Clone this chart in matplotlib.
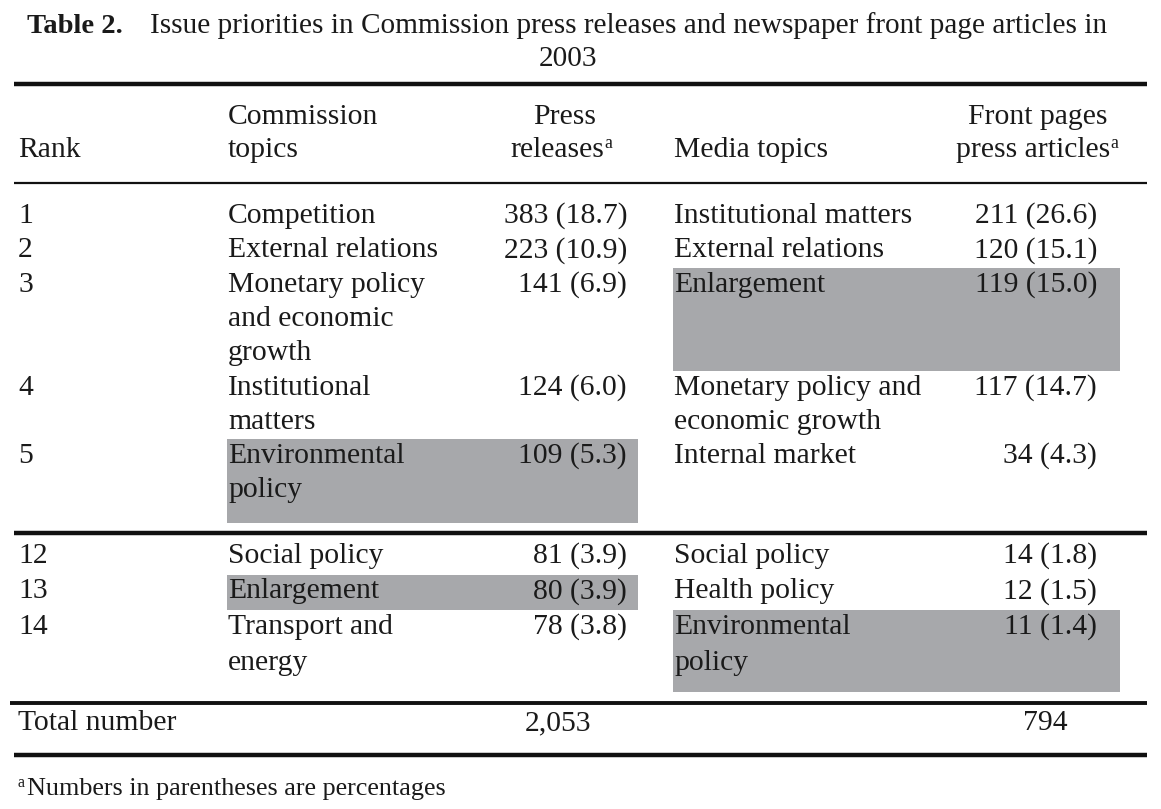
import matplotlib
matplotlib.use("Agg")
import matplotlib.pyplot as plt
from matplotlib.patches import Rectangle

# ---------------- data ----------------
title_label = "Table 2."
title_text = "Issue priorities in Commission press releases and newspaper front page articles in"
title_line2 = "2003"

header_rank = "Rank"
header_comm = ["Commission", "topics"]
header_press = ["Press", "releases"]
header_media = "Media topics"
header_front = ["Front pages", "press articles"]

ranks_top = ["1", "2", "3", "4", "5"]
comm_topics_top = ["Competition", "External relations", "Monetary policy\nand economic\ngrowth",
                   "Institutional\nmatters", "Environmental\npolicy"]
press_counts_top = [383, 223, 141, 124, 109]
press_pct_top = [18.7, 10.9, 6.9, 6.0, 5.3]
media_topics_top = ["Institutional matters", "External relations", "Enlargement",
                    "Monetary policy and\neconomic growth", "Internal market"]
media_counts_top = [211, 120, 119, 117, 34]
media_pct_top = [26.6, 15.1, 15.0, 14.7, 4.3]
comm_highlight_top = [False, False, False, False, True]
media_highlight_top = [False, False, True, False, False]

ranks_bot = ["12", "13", "14"]
comm_topics_bot = ["Social policy", "Enlargement", "Transport and\nenergy"]
press_counts_bot = [81, 80, 78]
press_pct_bot = [3.9, 3.9, 3.8]
media_topics_bot = ["Social policy", "Health policy", "Environmental\npolicy"]
media_counts_bot = [14, 12, 11]
media_pct_bot = [1.8, 1.5, 1.4]
comm_highlight_bot = [False, True, False]
media_highlight_bot = [False, False, True]

total_label = "Total number"
total_press = "2,053"
total_media = "794"
footnote = "Numbers in parentheses are percentages"

# ---------------- layout ----------------
W, H = 1161, 809
fig = plt.figure(figsize=(W / 100, H / 100), dpi=100)
ax = fig.add_axes([0, 0, 1, 1])
ax.set_xlim(0, W)
ax.set_ylim(H, 0)
ax.axis("off")

FONT = "Liberation Serif"
FS = 21.3
TXT = "#1a1a1a"
GRAY = "#a7a8ab"

def t(x, y, s, ha="left", size=FS, weight="normal"):
    ax.text(x, y, s, ha=ha, va="baseline", fontsize=size, family=FONT,
            color=TXT, fontweight=weight)

def sup(x, y, s="a", size=FS * 0.6, lift=9):
    ax.text(x, y - lift, s, ha="left", va="baseline", fontsize=size,
            family=FONT, color=TXT)

def rule(y, lw, x0=14, x1=1147):
    ax.plot([x0, x1], [y, y], color="#111111", lw=lw, solid_capstyle="butt")

# title
t(27, 33, title_label, size=20.5, weight="bold")
t(150, 33, title_text, size=21.05)
t(568, 66, title_line2, ha="center", size=21.05)

rule(84, 3.2)

# header
x_rank, x_comm, x_press_r, x_media, x_front_r = 18, 228, 627, 674, 1097
t(x_rank, 157, header_rank)
t(x_comm, 124, header_comm[0])
t(x_comm, 157, header_comm[1])
t(565, 124, header_press[0], ha="center")
t(604, 157, header_press[1], ha="right")
sup(604, 157)
t(1108, 124, header_front[0], ha="right")
t(1110, 157, header_front[1], ha="right")
sup(1110, 157)
t(x_media, 157, header_media)

rule(183, 1.6)

LS = 34.3

def draw_group(start, step, group_end, ranks, ctop, pc, pp, mtop, mc, mp, chl, mhl):
    y = start
    bases = []
    for i in range(len(ranks)):
        cl = ctop[i].split("\n")
        ml = mtop[i].split("\n")
        n = max(len(cl), len(ml))
        bases.append(y)
        y += n * step
    for i in range(len(ranks)):
        b = bases[i]
        top = b - 24
        bottom = (bases[i + 1] - 24) if i + 1 < len(ranks) else group_end
        if chl[i]:
            ax.add_patch(Rectangle((227, top), 638 - 227, bottom - top, color=GRAY, lw=0, zorder=0))
        if mhl[i]:
            ax.add_patch(Rectangle((673, top), 1120 - 673, bottom - top, color=GRAY, lw=0, zorder=0))
        t(x_rank, b, ranks[i])
        for k, line in enumerate(ctop[i].split("\n")):
            t(x_comm, b + k * step, line)
        t(x_press_r, b, f"{pc[i]} ({pp[i]:.1f})", ha="right")
        for k, line in enumerate(mtop[i].split("\n")):
            t(x_media, b + k * step, line)
        t(x_front_r, b, f"{mc[i]} ({mp[i]:.1f})", ha="right")

draw_group(223, LS, 523, ranks_top, comm_topics_top, press_counts_top, press_pct_top,
           media_topics_top, media_counts_top, media_pct_top,
           comm_highlight_top, media_highlight_top)

rule(533, 3.2)

draw_group(563, 35.5, 692, ranks_bot, comm_topics_bot, press_counts_bot, press_pct_bot,
           media_topics_bot, media_counts_bot, media_pct_bot,
           comm_highlight_bot, media_highlight_bot)

rule(703, 2.8, x0=10)
t(x_rank, 730, total_label)
t(558, 730, total_press, ha="center")
t(1045, 730, total_media, ha="center")
rule(755, 3.2)

sup(18, 795, size=11.5, lift=8)
t(27, 795, footnote, size=18.8)

fig.savefig("out.png", dpi=100)
